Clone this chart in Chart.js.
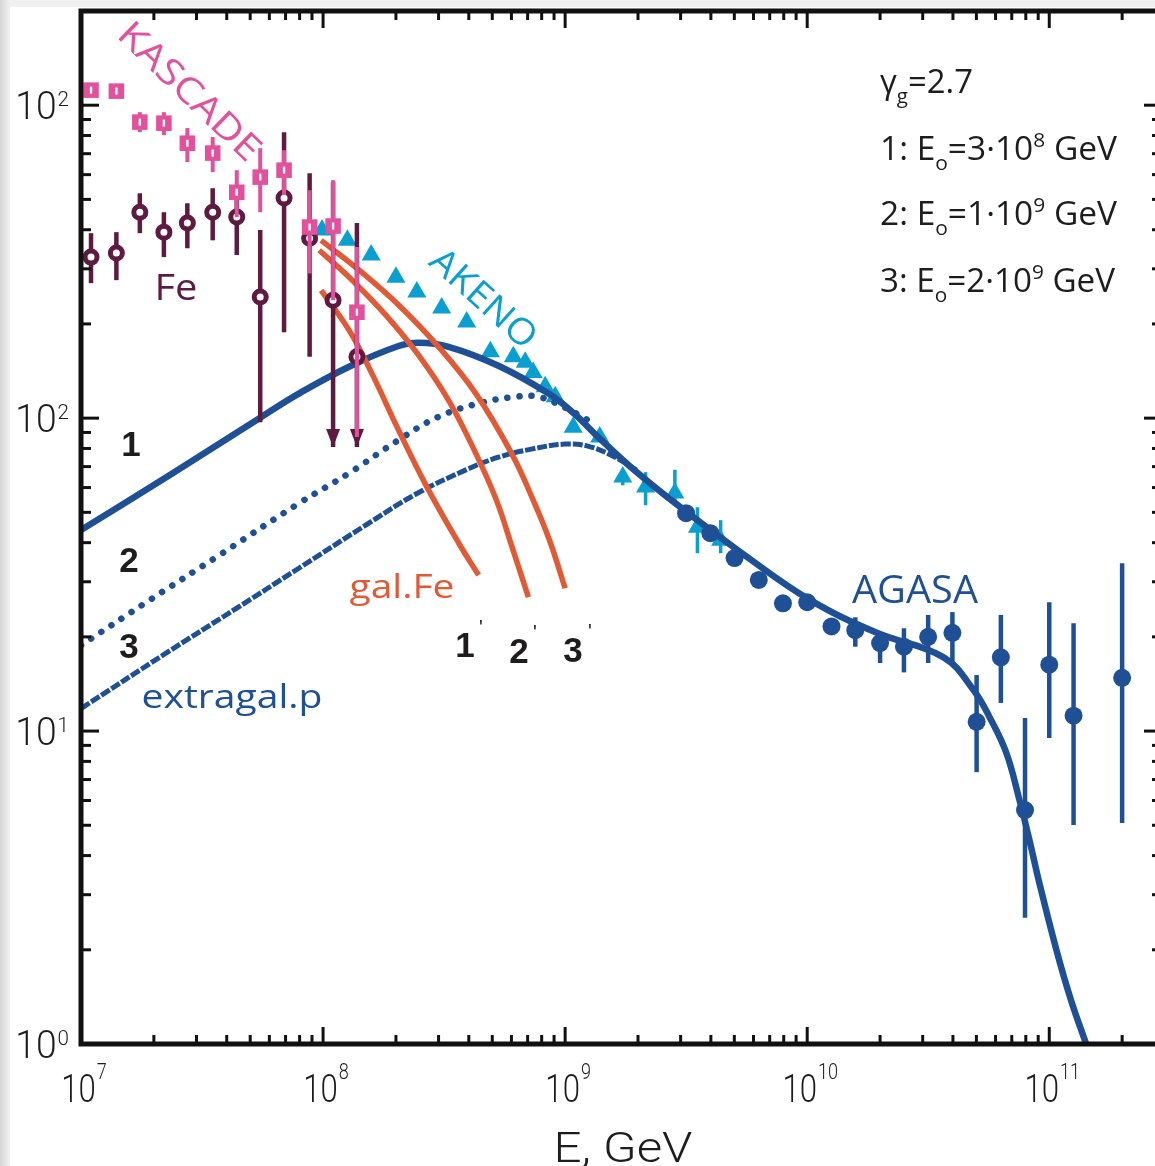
<!DOCTYPE html>
<html>
<head>
<meta charset="utf-8">
<script src="https://cdn.jsdelivr.net/npm/chart.js@4.4.1/dist/chart.umd.min.js"></script>
<style>
  html, body { margin: 0; padding: 0; background: #fff; overflow: hidden; }
  #wrap { width: 1155px; height: 1166px; overflow: hidden; }
  canvas { display: block; }
</style>
</head>
<body>
<div id="wrap"><canvas id="spectrum" width="1170" height="1166"></canvas></div>
<script>
// values: E in GeV, flux in the figure's units

// KASCADE (squares) and Fe (open circles) share the energy bins
const kascadeE  = [1.1e7, 1.4e7, 1.75e7, 2.2e7, 2.75e7, 3.5e7, 4.4e7, 5.5e7, 6.9e7, 8.8e7, 1.1e8, 1.38e8];
const kascadeF  = [1117, 1109, 883, 876, 756, 703, 527, 589, 620, 408, 411, 218];
const kascadeLo = [null, null, 820, 802, 658, 611, 439, 455, 516, 290, 238, 87];
const kascadeHi = [null, null, 950, 950, 845, 791, 620, 729, 718, 535, 576, 352];

const feF  = [327, 337, 455, 393, 420, 455, 439, 244, 505, 376, 238, 157];
const feLo = [270, 276, 390, 327, 349, 370, 332, 97, 188, 157, 80.8, 80.8];
const feHi = [390, 393, 523, 455, 486, 543, 497, 399, 820, 606, 567, 420];
const feLimit = [0, 0, 0, 0, 0, 0, 0, 0, 0, 0, 1, 1];

// AKENO (triangles)
const akenoE  = [9.9e7, 1.26e8, 1.58e8, 2.0e8, 2.44e8, 3.09e8, 3.92e8, 4.91e8, 6.11e8, 6.84e8,
                 7.38e8, 8.27e8, 9.1e8, 1.08e9, 1.39e9, 1.73e9, 2.15e9, 2.84e9, 3.52e9, 4.39e9];
const akenoF  = [399, 370, 332, 282, 253, 225, 203, 163, 157, 151, 140, 126, 117, 93.5, 87, 64.8, 60.2, 57.6, 44.8, 40.7];
const akenoLo = [null, null, null, null, null, null, null, null, null, null, null, null, null, null, null, 61, 52.7, 52.7, 37, 37];
const akenoHi = [null, null, null, null, null, null, null, null, null, null, null, null, null, null, null, 68.4, 67.2, 68.4, 51.9, 47.2];

// AGASA (filled circles)
const agasaE  = [3.16e9, 3.98e9, 5.01e9, 6.31e9, 7.94e9, 1e10, 1.26e10, 1.58e10, 2e10, 2.51e10,
                 3.16e10, 3.98e10, 5.01e10, 6.31e10, 7.94e10, 1e11, 1.26e11, 2e11];
const agasaF  = [49.7, 42.9, 35.7, 30.4, 25.6, 25.8, 21.6, 21.0, 19.1, 18.6, 20.0, 20.6, 10.7, 17.2, 5.59, 16.3, 11.2, 14.8];
const agasaLo = [null, null, null, null, null, null, null, 18.6, 16.5, 15.4, 16.5, 16.6, 7.39, 12.3, 2.53, 9.5, 5.01, 5.08];
const agasaHi = [null, null, null, null, null, null, null, 23.1, 20.0, 21.3, 23.5, 24.0, 15.1, 23.5, 11.0, 25.8, 22.1, 34.4];

// extragalactic proton curves 1, 2, 3
const p1E = [1e7, 2.32e7, 5.46e7, 7.97e7, 1.28e8, 2.05e8, 2.48e8, 3.3e8, 5.3e8, 8.51e8, 1.08e9, 1.37e9, 1.87e9, 2.92e9,
             5.51e9, 1.03e10, 1.94e10, 3.66e10, 4.87e10, 5.66e10, 6.65e10, 7.53e10, 8.28e10, 9.1e10, 1.07e11, 1.23e11, 1.42e11];
const p1F = [43.9, 65.7, 100, 120, 146, 170, 174, 169, 147, 120, 104, 87, 69.7, 52.7,
             36.5, 26.2, 20.6, 17.2, 13.5, 11.1, 8.51, 6.02, 4.49, 3.27, 2.0, 1.38, 1.0];
const p2E = [1e7, 1.92e7, 3.73e7, 7.97e7, 1.28e8, 2.05e8, 3.0e8, 4.51e8, 6.22e8, 7.74e8, 1.0e9, 1.24e9];
const p2F = [18.8, 26.2, 36.5, 53.5, 66.7, 85.1, 101, 112, 117, 117, 108, 98.6];
const p3E = [1e7, 2.26e7, 4.22e7, 7.97e7, 1.5e8, 2.42e8, 3.87e8, 5.3e8, 7.24e8, 1.0e9, 1.24e9, 1.58e9, 2.0e9];
const p3F = [11.8, 17.8, 24.2, 33.2, 45.5, 57.2, 68.2, 75.0, 79.6, 82.6, 81.4, 75.6, 67.7];

// galactic iron curves 1', 2', 3'
const g1E = [9.82e7, 1.28e8, 1.59e8, 2.05e8, 2.66e8, 3.63e8, 4.39e8];
const g1F = [256, 191, 139, 91.6, 61.1, 39.9, 31.5];
const g2E = [9.64e7, 1.32e8, 1.82e8, 2.48e8, 3.3e8, 4.27e8, 5.2e8, 6.0e8, 7.05e8];
const g2F = [344, 276, 213, 159, 114, 77.3, 54.7, 39.3, 26.8];
const g3E = [9.82e7, 1.41e8, 2.05e8, 3.0e8, 4.27e8, 6.0e8, 7.38e8, 8.67e8, 1.0e9];
const g3F = [370, 297, 230, 169, 120, 77.3, 54.7, 40.2, 28.6];

// axes
const xMin = 1e7, xMax = 2.84e11, yMin = 1, yMax = 2000;
const xTickVals = [1e7, 1e8, 1e9, 1e10, 1e11];
const xTickExp  = ['7', '8', '9', '10', '11'];
const yTickVals = [1, 10, 100, 1000];
const yTickExp  = ['0', '1', '2', '2'];   // the top label reads 10^2 in the original

const PINK = '#e2519b', FE = '#5e1a40', AKENO = '#0a9fd0', BLUE = '#1f5096', RED = '#e05a35', INK = '#1e1c1d';

function pts(xs, ys) { return xs.map((x, i) => ({ x: x, y: ys[i] })); }

function curve(xs, ys, color, extra) {
  return Object.assign({
    data: pts(xs, ys), showLine: true, pointRadius: 0, borderColor: color,
    borderWidth: 5.5, fill: false, tension: 0.4
  }, extra || {});
}

//draw error bars under each dataset's markers
const errorBars = {
  id: 'errorBars',
  beforeDatasetDraw(chart, args) {
    const ds = chart.data.datasets[args.index];
    if (!ds.errLo) return;
    const c = chart.ctx, xs = chart.scales.x, ys = chart.scales.y;
    c.save();
    c.strokeStyle = ds.errColor; c.fillStyle = ds.errColor; c.lineWidth = ds.errWidth;
    ds.data.forEach((p, i) => {
      if (ds.errLo[i] == null) return;
      const px = xs.getPixelForValue(p.x);
      const yl = ys.getPixelForValue(ds.errLo[i]);
      const yh = ys.getPixelForValue(ds.errHi[i]);
      c.beginPath(); c.moveTo(px, yh); c.lineTo(px, yl); c.stroke();
      if (ds.arrow && ds.arrow[i]) {
        c.beginPath(); c.moveTo(px - 7, yl - 18); c.lineTo(px + 7, yl - 18); c.lineTo(px, yl); c.closePath(); c.fill();
      }
    });
    c.restore();
  },
  afterDatasetDraw(chart, args) {
    const ds = chart.data.datasets[args.index];
    if (!ds.slot) return;
    const c = chart.ctx, xs = chart.scales.x, ys = chart.scales.y;
    c.save(); c.fillStyle = '#fff';
    ds.data.forEach(p => {
      c.fillRect(xs.getPixelForValue(p.x) - 1.2, ys.getPixelForValue(p.y) - 3.5, 2.4, 7);
    });
    c.restore();
  }
};

function fitText(c, text, cx, by, w, font, color, angle) {
  c.save();
  c.font = font; c.fillStyle = color; c.textAlign = 'center'; c.textBaseline = 'alphabetic';
  c.translate(cx, by);
  if (angle) c.rotate(angle * Math.PI / 180);
  const m = c.measureText(text).width;
  c.scale(w / m, 1);
  c.fillText(text, 0, 0);
  c.restore();
}

function fitCentered(c, text, cx, cy, w, font, color, angle, capH) {
  c.save();
  c.font = font; c.fillStyle = color; c.textAlign = 'center'; c.textBaseline = 'alphabetic';
  c.translate(cx, cy);
  c.rotate(angle * Math.PI / 180);
  const m = c.measureText(text).width;
  c.scale(w / m, 1);
  c.fillText(text, 0, capH / 2);
  c.restore();
}

// runs: [text, size, dy]
function drawRuns(c, runs, x, by, w, family, color) {
  c.save();
  c.fillStyle = color; c.textBaseline = 'alphabetic'; c.textAlign = 'left';
  let total = 0;
  runs.forEach(r => { c.font = r[1] + 'px ' + family; total += c.measureText(r[0]).width; });
  const sx = w / total;
  let cur = x;
  runs.forEach(r => {
    c.font = r[1] + 'px ' + family;
    const wd = c.measureText(r[0]).width;
    c.save(); c.translate(cur, by + r[2]); c.scale(sx, 1); c.fillText(r[0], 0, 0); c.restore();
    cur += wd * sx;
  });
  c.restore();
}

function drawPower(c, exp, x, by, align, sx, baseSize, supSize, supDy) {
  const fam = '"Roboto", "Liberation Sans", sans-serif';
  c.save(); c.fillStyle = INK; c.textBaseline = 'alphabetic'; c.textAlign = 'left';
  c.font = '300 ' + baseSize + 'px ' + fam;
  const wb = c.measureText('10').width * sx;
  c.font = '300 ' + supSize + 'px ' + fam;
  const ws = c.measureText(exp).width * sx;
  const total = wb + 1 + ws;
  const x0 = align === 'center' ? x - total / 2 : x - total;
  c.font = '300 ' + baseSize + 'px ' + fam;
  c.save(); c.translate(x0, by); c.scale(sx, 1); c.fillText('10', 0, 0); c.restore();
  c.font = '300 ' + supSize + 'px ' + fam;
  c.save(); c.translate(x0 + wb + 1, by + supDy); c.scale(sx, 1); c.fillText(exp, 0, 0); c.restore();
  c.restore();
}

const frameAndText = {
  id: 'frameAndText',
  beforeDraw(chart) {
    const c = chart.ctx;
    c.save();
    c.fillStyle = '#fff'; c.fillRect(0, 0, chart.width, chart.height);
    const g = c.createLinearGradient(0, 0, 10, 0);
    g.addColorStop(0, '#d6d6d6'); g.addColorStop(1, '#f2f2f2');
    c.fillStyle = g; c.fillRect(0, 0, 10, chart.height);
    c.fillStyle = '#f0f0f0'; c.fillRect(10, 0, chart.width, 7);
    c.restore();
  },
  afterDraw(chart) {
    const c = chart.ctx, xs = chart.scales.x, ys = chart.scales.y;
    const a = chart.chartArea;
    c.save();
    c.strokeStyle = '#111'; c.lineWidth = 3; c.lineCap = 'butt';
    const line = (x1, y1, x2, y2) => { c.beginPath(); c.moveTo(x1, y1); c.lineTo(x2, y2); c.stroke(); };
    // x ticks, bottom and top, pointing inward
    for (let d = 7; d <= 11; d++) {
      for (let m = 1; m <= 9; m++) {
        const v = m * Math.pow(10, d);
        if (v > xMax) break;
        const px = xs.getPixelForValue(v), L = m === 1 ? 17 : 9;
        line(px, a.bottom, px, a.bottom - L);
        line(px, a.top, px, a.top + L);
      }
    }
    // y ticks, left and right
    for (let d = 0; d <= 3; d++) {
      for (let m = 1; m <= 9; m++) {
        const v = m * Math.pow(10, d);
        if (v > yMax) break;
        const py = ys.getPixelForValue(v);
        line(a.left, py, a.left + (m === 1 ? 18 : 10), py);
        line(a.right, py, a.right - (m === 1 ? 15 : 7), py);
      }
    }
    c.lineWidth = 5;
    c.strokeRect(a.left, a.top, a.right - a.left, a.bottom - a.top);
    c.restore();

    // tick labels
    xTickVals.forEach((v, i) => drawPower(c, xTickExp[i], xs.getPixelForValue(v) + 3, 1102, 'center', 0.82, 38, 22, -23));
    yTickVals.forEach((v, i) => drawPower(c, yTickExp[i], 69, ys.getPixelForValue(v) + 14, 'right', 0.98, 38, 21, -13));

    // axis title
    fitText(c, 'E, GeV', 623, 1162, 139, '300 42px "Roboto", sans-serif', INK, 0);

    // series labels
    const fam = '"Open Sans", "Noto Sans", sans-serif';
    fitCentered(c, 'KASCADE', 190, 91, 183, '36px ' + fam, PINK, 44, 25);
    fitCentered(c, 'AKENO', 484, 298, 130, '36px ' + fam, AKENO, 42, 25);
    fitText(c, 'Fe', 176, 300, 43, '37px ' + fam, FE, 0);
    fitText(c, 'AGASA', 915, 603, 126, '38px ' + fam, BLUE, 0);
    fitText(c, 'gal.Fe', 402, 598, 105, '32px ' + fam, RED, 0);
    fitText(c, 'extragal.p', 232, 708, 181, '32px ' + fam, BLUE, 0);

    // curve numbers
    c.save();
    c.fillStyle = INK; c.textAlign = 'center'; c.textBaseline = 'middle';
    c.font = 'bold 35px "Liberation Sans", Arial, sans-serif';
    c.fillText('1', 131, 446); c.fillText('2', 129, 562); c.fillText('3', 129, 648);
    c.fillText('1', 465, 647); c.fillText('2', 519, 653); c.fillText('3', 573, 652);
    c.font = '20px "Liberation Sans", Arial, sans-serif';
    c.fillText("'", 481, 628); c.fillText("'", 535, 633); c.fillText("'", 590, 632);
    c.restore();

    // parameter legend
    drawRuns(c, [['\u03b3', 32, 0], ['g', 20, 10], ['=2.7', 32, 0]], 880, 93, 93, fam, INK);
    drawRuns(c, [['1: E', 32, 0], ['o', 20, 10], ['=3\u00b710', 32, 0], ['8', 20, -13], [' GeV', 32, 0]], 880, 160, 237, fam, INK);
    drawRuns(c, [['2: E', 32, 0], ['o', 20, 10], ['=1\u00b710', 32, 0], ['9', 20, -13], [' GeV', 32, 0]], 880, 225, 237, fam, INK);
    drawRuns(c, [['3: E', 32, 0], ['o', 20, 10], ['=2\u00b710', 32, 0], ['9', 20, -13], [' GeV', 32, 0]], 880, 292, 235, fam, INK);
  }
};

const ctx = document.getElementById('spectrum').getContext('2d');
new Chart(ctx, {
  type: 'scatter',
  data: {
    datasets: [
      // first dataset is drawn on top
      { label: 'KASCADE', data: pts(kascadeE, kascadeF), pointStyle: 'rect', pointRadius: 11,
        backgroundColor: PINK, borderColor: PINK, borderWidth: 0,
        errLo: kascadeLo, errHi: kascadeHi, errColor: PINK, errWidth: 4, slot: true },
      { label: 'Fe', data: pts(kascadeE, feF), pointStyle: 'circle', pointRadius: 6,
        backgroundColor: '#fff', borderColor: FE, borderWidth: 5,
        errLo: feLo, errHi: feHi, errColor: FE, errWidth: 4.5, arrow: feLimit },
      { label: 'AGASA', data: pts(agasaE, agasaF), pointStyle: 'circle', pointRadius: 9,
        backgroundColor: BLUE, borderColor: BLUE, borderWidth: 0,
        errLo: agasaLo, errHi: agasaHi, errColor: BLUE, errWidth: 4.5 },
      curve(g1E, g1F, RED),
      curve(g2E, g2F, RED),
      curve(g3E, g3F, RED),
      curve(p1E, p1F, BLUE, { borderWidth: 6.5 }),
      curve(p2E, p2F, BLUE, { borderWidth: 6.5, borderDash: [0.1, 12], borderCapStyle: 'round' }),
      curve(p3E, p3F, BLUE, { borderWidth: 5, borderDash: [10, 2] }),
      { label: 'AKENO', data: pts(akenoE, akenoF), pointStyle: 'triangle', pointRadius: 11,
        backgroundColor: AKENO, borderColor: AKENO, borderWidth: 0,
        errLo: akenoLo, errHi: akenoHi, errColor: AKENO, errWidth: 3.5 }
    ]
  },
  options: {
    responsive: false,
    animation: false,
    devicePixelRatio: 1,
    events: [],
    layout: { padding: { left: 81, right: 8, top: 10, bottom: 122 } },
    plugins: { legend: { display: false }, tooltip: { enabled: false } },
    scales: {
      x: { type: 'logarithmic', min: xMin, max: xMax, display: false },
      y: { type: 'logarithmic', min: yMin, max: yMax, display: false }
    }
  },
  plugins: [errorBars, frameAndText]
});
</script>
</body>
</html>
